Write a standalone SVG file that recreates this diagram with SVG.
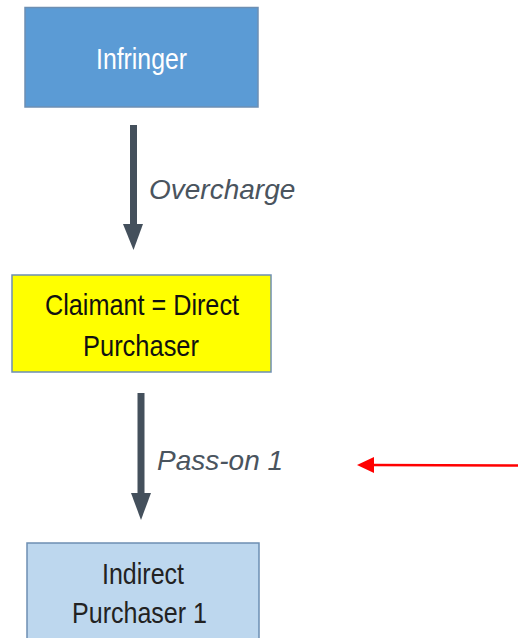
<svg xmlns="http://www.w3.org/2000/svg" width="518" height="638" viewBox="0 0 518 638">
<style>
.box{stroke:#6d8fb3;stroke-width:1.5}
.t{font-family:"Liberation Sans",Arial,sans-serif;font-size:30px;text-anchor:middle}
.lbl{font-family:"Liberation Sans",Arial,sans-serif;font-size:28px;font-style:italic;fill:#4a545e}
.shaft{fill:#44505c}
</style>
<rect width="518" height="638" fill="#ffffff"/>
<g id="infringer">
<rect class="box" x="25" y="7.5" width="233" height="99.5" fill="#5b9bd5"/>
<text class="t" x="141.5" y="69" fill="#ffffff" textLength="91" lengthAdjust="spacingAndGlyphs">Infringer</text>
</g>
<g id="claimant">
<rect class="box" x="12" y="275" width="259" height="97" fill="#ffff00"/>
<text class="t" x="142" y="315" fill="#111111" textLength="194" lengthAdjust="spacingAndGlyphs">Claimant = Direct</text>
<text class="t" x="141" y="356" fill="#111111" textLength="116" lengthAdjust="spacingAndGlyphs">Purchaser</text>
</g>
<g id="indirect">
<rect class="box" x="27" y="543" width="232" height="100" fill="#bdd7ee"/>
<text class="t" x="143" y="584" fill="#222222" textLength="82" lengthAdjust="spacingAndGlyphs">Indirect</text>
<text class="t" x="139.5" y="623" fill="#222222" textLength="135" lengthAdjust="spacingAndGlyphs">Purchaser 1</text>
</g>
<g id="connectors">
<rect class="shaft" x="130" y="125" width="7" height="101"/>
<polygon class="shaft" points="123,224 143,224 133.5,250"/>
<text class="lbl" x="149" y="199">Overcharge</text>
<rect class="shaft" x="137.5" y="393" width="7" height="102"/>
<polygon class="shaft" points="131,493 151,493 141,520"/>
<text class="lbl" x="157" y="470">Pass-on 1</text>
<line x1="518" y1="465.5" x2="372" y2="465" stroke="#ff0000" stroke-width="2.5"/>
<polygon points="357,465 374,457 374,473" fill="#ff0000"/>
</g>
</svg>
